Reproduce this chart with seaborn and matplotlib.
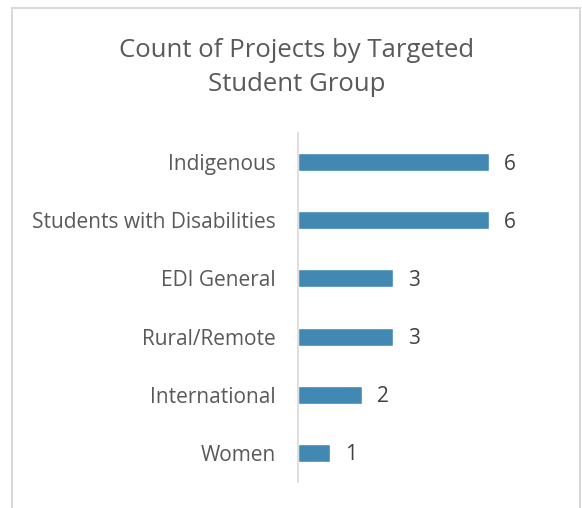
import matplotlib
matplotlib.use("Agg")
import matplotlib.pyplot as plt
import pandas as pd
import seaborn as sns
from matplotlib.patches import Rectangle

groups = ["Indigenous", "Students with Disabilities", "EDI General",
          "Rural/Remote", "International", "Women"]
counts = [6, 6, 3, 3, 2, 1]

df = pd.DataFrame({"group": groups, "count": counts})

sns.set_style("white")
plt.rcParams["font.family"] = ["Open Sans", "DejaVu Sans"]

fig = plt.figure(figsize=(5.82, 5.08), dpi=100)
ax = fig.add_axes([298 / 582, 1 - 482 / 508, 254 / 582, 349 / 508])

sns.barplot(data=df, y="group", x="count", order=groups, color="#4189b3",
            width=0.31, saturation=1, ax=ax)

ax.set_xlim(0, 8)
ax.set_xlabel("")
ax.set_ylabel("")
ax.set_xticks([])
sns.despine(ax=ax, left=False, bottom=True)
ax.spines["left"].set_color("#d9d9d9")
ax.spines["left"].set_linewidth(1.2)
ax.tick_params(axis="y", length=0, pad=16, labelsize=15, labelcolor="#595959")

for c in ax.containers:
    for lab in ax.bar_label(c, padding=11, fontsize=15, color="#404040"):
        lab.xyann = (11, -1.5)

fig.text(297 / 582, 1 - 67.5 / 508, "Count of Projects by Targeted\nStudent Group",
         ha="center", va="center", fontsize=18.5, color="#595959", linespacing=1.5)

fig.patches.append(Rectangle((12 / 582, -0.05), 568 / 582, 1.05 - 8 / 508,
                             transform=fig.transFigure, fill=False,
                             edgecolor="#d9d9d9", linewidth=1.5))

fig.savefig("out.png", dpi=100)
